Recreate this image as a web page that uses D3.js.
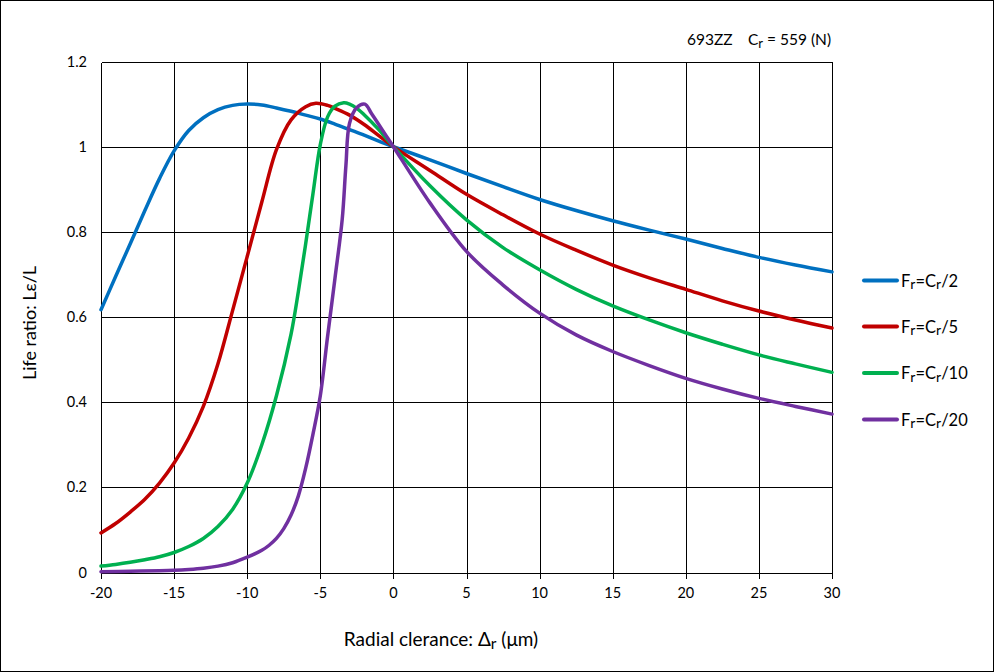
<!DOCTYPE html>
<html><head><meta charset="utf-8">
<script src="https://cdn.jsdelivr.net/npm/d3@7/dist/d3.min.js"></script>
<style>
html,body{margin:0;padding:0;background:#fff;}
svg{display:block;font-family:Lato, "Open Sans", sans-serif;}
</style></head>
<body><svg id="chart" width="994" height="672"></svg>
<script>
// ---- data ----
const xTicks = [-20,-15,-10,-5,0,5,10,15,20,25,30];
const yTicks = [0,0.2,0.4,0.6,0.8,1,1.2];
const yTickLabels = ["0","0.2","0.4","0.6","0.8","1","1.2"];

const seriesNames = ["/2","/5","/10","/20"];
const seriesColors = ["#0070C0","#C00000","#00B050","#7030A0"];

const x2 = [-20,-19,-18,-17,-16,-15,-14,-13,-12,-11,-10,-9,-8,-7,-6,-5,-4,-3,-2,-1,0,2.5,5,7.5,10,12.5,15,17.5,20,22.5,25,27.5,30];
const y2 = [0.617,0.695,0.772,0.85,0.925,0.99,1.038,1.068,1.087,1.097,1.100,1.098,1.091,1.083,1.074,1.065,1.053,1.040,1.027,1.013,1.0,0.969,0.937,0.906,0.876,0.85,0.826,0.804,0.783,0.761,0.740,0.722,0.706];

const x5 = [-20,-19,-18,-17,-16,-15,-14,-13,-12,-11,-10,-9,-8,-7,-6,-5.3,-4.5,-4,-3,-2,-1,0,2.5,5,7.5,10,12.5,15,17.5,20,22.5,25,27.5,30];
const y5 = [0.093,0.115,0.142,0.172,0.21,0.257,0.316,0.39,0.49,0.615,0.742,0.87,0.993,1.063,1.094,1.102,1.097,1.090,1.074,1.052,1.026,1.0,0.944,0.888,0.84,0.795,0.757,0.722,0.692,0.665,0.638,0.614,0.593,0.574];

const x10 = [-20,-19,-18,-17,-16,-15,-14,-13,-12,-11,-10,-9,-8,-7,-6.5,-6,-5.5,-5,-4.5,-4,-3.4,-3,-2.5,-2,-1,0,2.5,5,7.5,10,12.5,15,17.5,20,22.5,25,27.5,30];
const y10 = [0.015,0.019,0.024,0.03,0.037,0.047,0.061,0.08,0.108,0.148,0.21,0.3,0.415,0.56,0.66,0.772,0.89,1.005,1.07,1.095,1.103,1.1,1.09,1.075,1.04,1.0,0.908,0.828,0.763,0.711,0.665,0.626,0.593,0.563,0.536,0.511,0.49,0.47];

const x20 = [-20,-18,-16,-15,-14,-13,-12,-11,-10,-9,-8.5,-8,-7.5,-7,-6.5,-6,-5.5,-5,-4.5,-4,-3.5,-3.25,-3,-2.5,-1.95,-1.5,-1,-0.5,0,2.5,5,7.5,10,12.5,15,17.5,20,22.5,25,27.5,30];
const y20 = [0.002,0.003,0.004,0.005,0.007,0.01,0.015,0.023,0.036,0.052,0.064,0.08,0.103,0.135,0.18,0.245,0.325,0.415,0.555,0.69,0.83,0.955,1.055,1.092,1.100,1.078,1.052,1.026,1.0,0.868,0.754,0.675,0.609,0.558,0.519,0.486,0.456,0.431,0.409,0.39,0.372];

const seriesX = [x2,x5,x10,x20];
const seriesY = [y2,y5,y10,y20];

// ---- chart ----
const svg = d3.select("#chart");
const W = 994, H = 672;
const mLeft = 101, mRight = 832, mTop = 61.5, mBottom = 572.5;

svg.append("rect").attr("x",0.5).attr("y",0.5).attr("width",W-1).attr("height",H-1)
  .attr("fill","#fff").attr("stroke","#000").attr("stroke-width",1);

const x = d3.scaleLinear().domain([-20,30]).range([mLeft,mRight]);
const y = d3.scaleLinear().domain([0,1.2]).range([mBottom,mTop]);

const px = v => Math.round(x(v)) + 0.5;
const py = v => Math.round(y(v)) + 0.5;

const grid = svg.append("g").attr("stroke","#000").attr("stroke-width",1).attr("shape-rendering","crispEdges");
grid.selectAll("line.v").data(xTicks).join("line").attr("class","v")
  .attr("x1",px).attr("x2",px).attr("y1",py(1.2)).attr("y2",py(0)+5);
grid.selectAll("line.h").data(yTicks).join("line").attr("class","h")
  .attr("x1",px(-20)).attr("x2",px(30)).attr("y1",py).attr("y2",py);

// x tick labels
svg.append("g").selectAll("text").data(xTicks).join("text")
  .attr("x",d=>x(d)).attr("y",598).attr("text-anchor","middle")
  .attr("font-size",14.5).attr("fill","#000").text(d=>d);
// y tick labels
svg.append("g").selectAll("text").data(yTicks).join("text")
  .attr("x",87).attr("y",d=>y(d)+5).attr("text-anchor","end")
  .attr("font-size",14.5).attr("fill","#000").text((d,i)=>yTickLabels[i]);

// curves
const line = d3.line().x(d=>x(d[0])).y(d=>y(d[1])).curve(d3.curveCatmullRom.alpha(0.5));
seriesX.forEach((xs,i)=>{
  const pts = xs.map((v,j)=>[v, seriesY[i][j]]);
  svg.append("path").datum(pts).attr("d",line).attr("fill","none")
    .attr("stroke",seriesColors[i]).attr("stroke-width",3.5)
    .attr("stroke-linejoin","round").attr("stroke-linecap","round");
});

// legend
const legY = [280.5,326.5,373,419.5];
seriesNames.forEach((nm,i)=>{
  svg.append("line").attr("x1",864).attr("x2",897).attr("y1",legY[i]).attr("y2",legY[i])
    .attr("stroke",seriesColors[i]).attr("stroke-width",4).attr("stroke-linecap","round");
  const t = svg.append("text").attr("x",901).attr("y",legY[i]+6).attr("font-size",16.5).attr("fill","#000");
  t.append("tspan").text("F");
  t.append("tspan").attr("dy",2.5).attr("font-size",14).text("r");
  t.append("tspan").attr("dy",-2.5).text("=C");
  t.append("tspan").attr("dy",2.5).attr("font-size",14).text("r");
  t.append("tspan").attr("dy",-2.5).text(nm);
});

// top annotation
svg.append("text").attr("x",687).attr("y",45).attr("font-size",15.5).attr("fill","#000").text("693ZZ");
const ct = svg.append("text").attr("x",748).attr("y",45).attr("font-size",15.5).attr("fill","#000");
ct.append("tspan").text("C");
ct.append("tspan").attr("dy",2.5).attr("font-size",13).text("r");
ct.append("tspan").attr("dy",-2.5).text(" = 559 (N)");

// x axis title
const xt = svg.append("text").attr("x",441).attr("y",646).attr("text-anchor","middle")
  .attr("font-size",19).attr("fill","#000");
xt.append("tspan").text("Radial clerance: Δ");
xt.append("tspan").attr("dy",3).attr("font-size",15.5).text("r");
xt.append("tspan").attr("dy",-3).text(" (μm)");

// y axis title
svg.append("text").attr("transform","translate(36,323) rotate(-90)").attr("text-anchor","middle")
  .attr("font-size",18).attr("fill","#000").text("Life ratio: Lε/L");
</script></body></html>
